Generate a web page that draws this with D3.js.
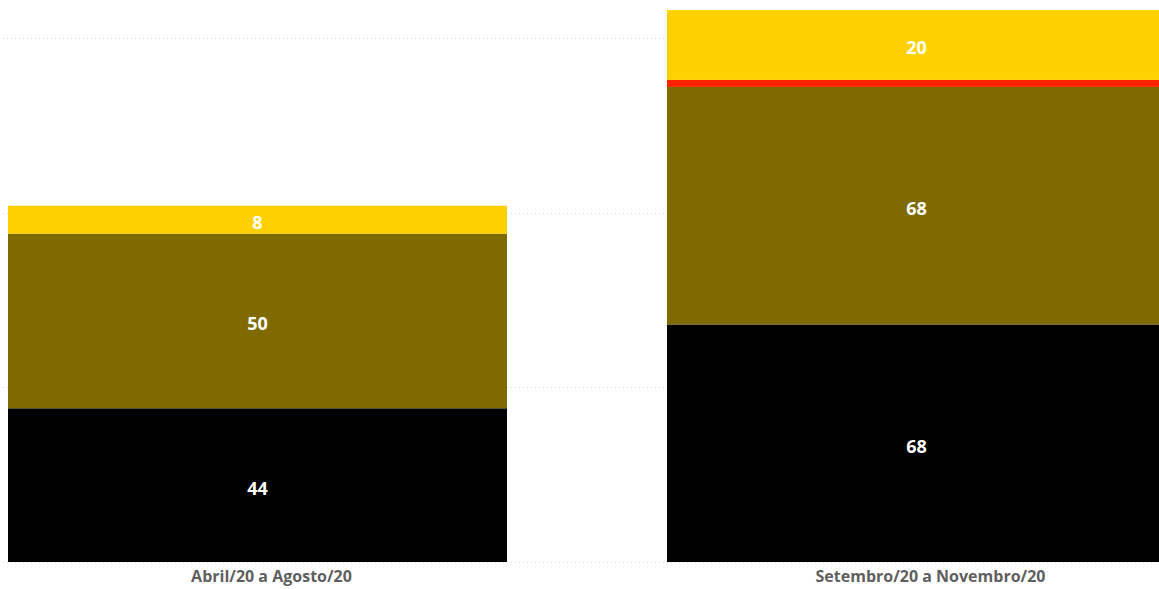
<!DOCTYPE html>
<html>
<head>
<meta charset="utf-8">
<script src="https://cdn.jsdelivr.net/npm/d3@7"></script>
<style>
	body { margin:0; background:#fff; }
	svg { display:block; }
</style>
</head>
<body>
<div id="chart"></div>
<script>
var categories = ["Abril/20 a Agosto/20", "Setembro/20 a Novembro/20"];
var seriesNames = ["s1", "s2", "s3", "s4"];
var s1 = [44, 68];
var s2 = [50, 68];
var s3 = [0, 2];
var s4 = [8, 20];
var colors = ["#000000", "#7f6a00", "#ff2200", "#ffd100"];
var gridTicks = [0, 50, 100, 150];

var width = 1159, height = 589;
var svg = d3.select('#chart').append('svg')
	.attr('width', width)
	.attr('height', height);

var rows = categories.map(function(c, i) {
	return {cat: c, s1: s1[i], s2: s2[i], s3: s3[i], s4: s4[i]};
});
var stack = d3.stack().keys(seriesNames)(rows);

// band step 659, bars 499 wide
var x = d3.scaleBand()
	.domain(categories)
	.range([8, 8 + 659 * 2 - 160])
	.paddingInner(160 / 659)
	.paddingOuter(0);

var y = d3.scaleLinear()
	.domain([0, 150])
	.range([562, 38]);

//gridlines
svg.append('g').selectAll('line')
	.data(gridTicks)
	.enter().append('line')
	.attr('x1', 3)
	.attr('x2', width)
	.attr('y1', function(d) { return Math.round(y(d)) + 0.5; })
	.attr('y2', function(d) { return Math.round(y(d)) + 0.5; })
	.style('stroke', '#d9d9d9')
	.style('stroke-width', 1)
	.style('stroke-dasharray', '1,3');

var layers = svg.append('g').selectAll('g')
	.data(stack)
	.enter().append('g')
	.attr('fill', function(d, i) { return colors[i]; });

layers.selectAll('rect')
	.data(function(d) { return d; })
	.enter().append('rect')
	.attr('x', function(d) { return x(d.data.cat); })
	.attr('width', x.bandwidth())
	.attr('y', function(d) { return y(d[1]); })
	.attr('height', function(d) { return y(d[0]) - y(d[1]); });

//value labels (skip tiny segments)
layers.each(function(layer) {
	d3.select(this).selectAll('text')
		.data(layer.filter(function(d) { return d[1] - d[0] >= 5; }))
		.enter().append('text')
		.attr('x', function(d) { return x(d.data.cat) + x.bandwidth() / 2; })
		.attr('y', function(d) { return (y(d[0]) + y(d[1])) / 2 + 3; })
		.attr('dy', '0.36em')
		.attr('text-anchor', 'middle')
		.attr('fill', '#ffffff')
		.style('font-family', '"Open Sans", sans-serif')
		.style('font-weight', 'bold')
		.style('font-size', '18px')
		.text(function(d) { return d[1] - d[0]; });
});

//category axis (labels sit a bit right of bar centre in the original)
var xAxis = svg.append('g')
	.attr('transform', 'translate(14,' + 562 + ')')
	.call(d3.axisBottom(x).tickSize(0).tickPadding(9));
xAxis.select('.domain').remove();
xAxis.selectAll('text')
	.attr('fill', '#5f5f5f')
	.style('font-family', '"Open Sans", sans-serif')
	.style('font-weight', 'bold')
	.style('font-size', '16px');
</script>
</body>
</html>
